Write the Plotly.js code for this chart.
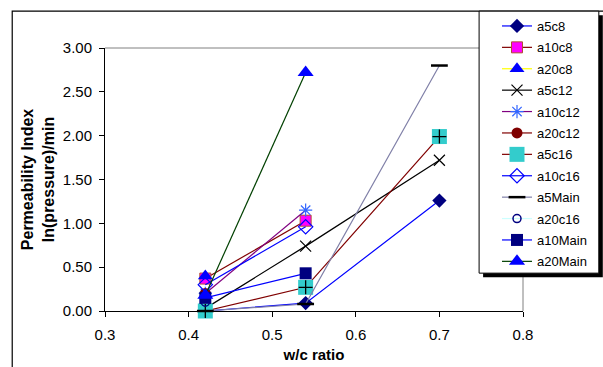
<!DOCTYPE html>
<html><head><meta charset="utf-8">
<script src="https://cdn.plot.ly/plotly-3.0.1.min.js"></script>
<style>html,body{margin:0;padding:0;background:#fff}#chart{width:603px;height:367px}</style>
</head><body><div id="chart"></div>
<script>
// w/c ratio values
const wc = [0.42, 0.54, 0.70];
// Permeability index series (null = no point)
const a5c8    = [0.00, 0.09, 1.26];
const a10c8   = [0.37, 1.03, null];
const a20c8   = [0.40, null, null];
const a5c12   = [0.03, 0.74, 1.72];
const a10c12  = [0.20, 1.15, null];
const a20c12  = [0.20, null, null];
const a5c16   = [0.00, 0.27, 1.99];
const a10c16  = [0.30, 0.96, null];
const a5Main  = [0.00, 0.08, 2.80];
const a20c16  = [0.10, null, null];
const a10Main = [0.15, 0.43, null];
const a20Main = [0.18, 2.72, null];
const seriesNames = ["a5c8","a10c8","a20c8","a5c12","a10c12","a20c12","a5c16","a10c16","a5Main","a20c16","a10Main","a20Main"];
const xTicks = [0.3, 0.4, 0.5, 0.6, 0.7, 0.8];
const yTicks = [0, 0.5, 1, 1.5, 2, 2.5, 3];

const styles = {
  a5c8:   {lc:"#0000FF", m:{symbol:"diamond", color:"#000080", size:11}},
  a10c8:  {lc:"#800000", m:{symbol:"square", color:"#FF00FF", size:11, line:{color:"#B05030", width:1}}},
  a20c8:  {lc:"#FFFF00", m:{symbol:"triangle-up", color:"#0000FF", size:13}},
  a5c12:  {lc:"#000000", m:{symbol:"x-thin-open", color:"#000000", size:11, line:{color:"#000000", width:1.2}}},
  a10c12: {lc:"#800080", m:{symbol:"asterisk-open", color:"#3366FF", size:11, line:{color:"#3366FF", width:1.2}}},
  a20c12: {lc:"#800000", m:{symbol:"circle", color:"#800000", size:11}},
  a5c16:  {lc:"#800000", m:{symbol:"square", color:"#33CCCC", size:15}},
  a10c16: {lc:"#0000FF", m:{symbol:"diamond-open", color:"#0000FF", size:11, line:{color:"#0000FF", width:1.2}}},
  a5Main: {lc:"#8080A8", m:{symbol:"line-ew-open", color:"#000000", size:12, line:{color:"#000000", width:2.5}}},
  a20c16: {lc:"#CCFFFF", m:{symbol:"circle-open", color:"#000080", size:8, line:{color:"#000080", width:1.5}}},
  a10Main:{lc:"#0000FF", m:{symbol:"square", color:"#000080", size:12}},
  a20Main:{lc:"#004000", m:{symbol:"triangle-up", color:"#0000FF", size:14}}
};
const dataMap = {a5c8,a10c8,a20c8,a5c12,a10c12,a20c12,a5c16,a10c16,a5Main,a20c16,a10Main,a20Main};

const traces = [];
seriesNames.forEach((n,i) => {
  const s = styles[n];
  traces.push({x: wc, y: dataMap[n], name: n, type: "scatter", mode: "lines+markers",
    line: {color: s.lc, width: 1.2}, marker: s.m, legendgroup: "g"+i, cliponaxis: false});
  if (n === "a5c16") {
    traces.push({x: wc, y: dataMap[n], name: n, type: "scatter", mode: "markers", showlegend: false,
      marker: {symbol: "cross-thin-open", color: "#000000", size: 10, line: {color: "#000000", width: 1.3}},
      legendgroup: "g"+i, cliponaxis: false});
  }
});

// pixel -> paper helpers (plot area: x 105..524, y 47..311)
const PX = p => (p - 105) / 419;
const PY = p => (311 - p) / 264;

const layout = {
  width: 603, height: 367,
  margin: {l: 105, r: 79, t: 47, b: 56},
  paper_bgcolor: "#FFFFFF", plot_bgcolor: "#FFFFFF",
  font: {family: "Liberation Sans, Arial, sans-serif", size: 15, color: "#000"},
  xaxis: {range: [0.3, 0.8], tickvals: xTicks, ticktext: xTicks.map(v => v.toFixed(1)),
    showgrid: false, zeroline: false, showline: true, linecolor: "#000", linewidth: 1,
    ticks: "outside", ticklen: 5, tickcolor: "#000", tickfont: {size: 15}, ticklabelstandoff: 5,
    title: {text: "<b>w/c ratio</b>", font: {size: 15}, standoff: 7}},
  yaxis: {range: [0, 3], tickvals: yTicks, ticktext: yTicks.map(v => v.toFixed(2)),
    showgrid: false, zeroline: false, showline: true, linecolor: "#000", linewidth: 1,
    ticks: "outside", ticklen: 5, tickcolor: "#000", tickfont: {size: 15}, ticklabelstandoff: 4,
    title: {text: "<b>Permeability Index<br>ln(pressure)/min</b>", font: {size: 16}, standoff: 4}},
  showlegend: true,
  legend: {x: PX(497), y: PY(11), xanchor: "left", yanchor: "top", bgcolor: "rgba(0,0,0,0)",
    borderwidth: 0, font: {size: 13}, traceorder: "grouped", tracegroupgap: 1.5, maxheight: 1000},
  shapes: [
    {type: "rect", xref: "paper", yref: "paper", x0: PX(12), x1: PX(620), y0: PY(400), y1: PY(10),
      line: {color: "#000", width: 1.2}, layer: "below"},
    {type: "line", xref: "paper", yref: "paper", x0: 0, x1: 1, y0: 1, y1: 1, line: {color: "#808080", width: 1}},
    {type: "line", xref: "paper", yref: "paper", x0: 1, x1: 1, y0: 0, y1: 1, line: {color: "#808080", width: 1}},
    // legend shadow and box
    {type: "rect", xref: "paper", yref: "paper", x0: PX(484), x1: PX(604), y0: PY(277), y1: PY(14),
      fillcolor: "#000", line: {width: 0}, layer: "above"},
    {type: "rect", xref: "paper", yref: "paper", x0: PX(480), x1: PX(600), y0: PY(273), y1: PY(10),
      fillcolor: "#FFF", line: {color: "#000", width: 1}, layer: "above"}
  ]
};
Plotly.newPlot("chart", traces, layout, {displayModeBar: false, staticPlot: true});
</script></body></html>
